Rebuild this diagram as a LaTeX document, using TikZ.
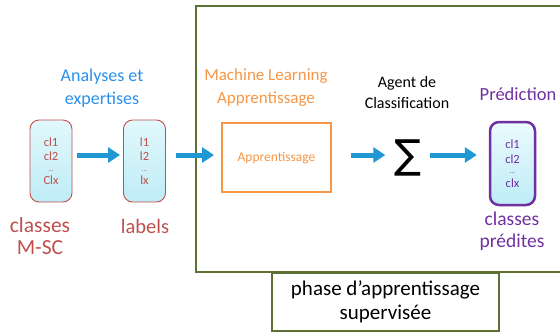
\documentclass[tikz,border=0pt]{standalone}
\usepackage{fontspec}
\setmainfont{Carlito}
\newfontfamily\symfont{DejaVu Sans}
\usetikzlibrary{arrows.meta,positioning}

\definecolor{frameGreen}{RGB}{94,113,52}
\definecolor{msRed}{RGB}{192,80,77}
\definecolor{msBlue}{RGB}{40,145,235}
\definecolor{msOrange}{RGB}{247,150,70}
\definecolor{msPurple}{RGB}{112,48,160}
\definecolor{arrBlue}{RGB}{31,152,212}
\definecolor{cyanTop}{RGB}{226,248,252}
\definecolor{cyanBot}{RGB}{190,236,246}

\begin{document}
\begin{tikzpicture}[x=1pt,y=-1pt,
  scroll/.style={
    rectangle, draw=msRed, line width=0.9pt, rounded corners=9pt,
    top color=cyanTop, bottom color=cyanBot,
    minimum width=42pt, minimum height=82pt, inner sep=0pt,
    align=center, text=msRed, font=\fontsize{12.5}{14.5}\selectfont},
  title/.style={align=center, inner sep=0pt},
  flow/.style={-{Triangle[length=12pt,width=15pt]}, line width=5pt, arrBlue},
]
\useasboundingbox (0,0) rectangle (560,333);

%% ---- Frame ----
\draw[frameGreen, line width=2.5pt] (196,6) rectangle (570,272);
\node[draw=frameGreen, line width=1.5pt, fill=white,
      minimum width=227pt, minimum height=58pt, align=center,
      font=\fontsize{21}{24}\selectfont] (phase) at (385.5,302)
      {phase d'apprentissage\\supervisée};

%% ---- Nodes ----
\node[scroll] (cls) at (51,161) {cl1\\cl2\\[-4pt]{\fontsize{7}{8}\selectfont...}\\[-1pt]Clx};
\node[scroll] (lab) at (144.5,161) {l1\\l2\\[-4pt]{\fontsize{7}{8}\selectfont...}\\[-1pt]lx};

\node[draw=msOrange, line width=2pt, minimum width=109pt, minimum height=69pt,
      text=msOrange, font=\fontsize{13.5}{15}\selectfont] (app) at (276.5,157.5)
      {Apprentissage};

\node[inner sep=0pt, font=\symfont\fontsize{40}{40}\selectfont] (sig) at (408,158) {∑};

\node[scroll, draw=msPurple, line width=2.5pt, text=msPurple,
      minimum width=45pt, minimum height=83pt, top color=cyanTop!70!white]
      (pred) at (512.5,163.5) {cl1\\cl2\\[-4pt]{\fontsize{7}{8}\selectfont...}\\[-1pt]clx};

\coordinate (inbox) at (214,155);

%% ---- Titles ----
\node[title, text=msBlue, font=\fontsize{18}{23}\selectfont] (ana) at (102,88)
      {Analyses et\\expertises};
\node[title, text=msRed, font=\fontsize{21.5}{21.5}\selectfont] (clsl) at (40,236)
      {classes\\M-SC};
\node[title, text=msRed, font=\fontsize{20.5}{19}\selectfont] (labl) at (145,226)
      {labels};
\node[title, text=msOrange, font=\fontsize{17}{23}\selectfont] (ml) at (266,88)
      {Machine Learning\\Apprentissage};
\node[title, font=\fontsize{16}{21}\selectfont] (agent) at (407,92)
      {Agent de\\Classification};
\node[title, text=msPurple, font=\fontsize{18.5}{20}\selectfont] (predt) at (518,94)
      {Prédiction};
\node[title, text=msPurple, font=\fontsize{19.5}{22}\selectfont] (predl) at (512,231)
      {classes\\prédites};

%% ---- Arrows ----
\draw[flow, shorten <=5pt, shorten >=3pt] ([yshift=6pt]cls.east) -- ([yshift=6pt]lab.west);
\draw[flow, shorten <=10pt] ([yshift=6pt]lab.east) -- (inbox);
\draw[flow, shorten <=19pt, shorten >=9pt] ([yshift=2.5pt]app.east) -- ([yshift=3pt]sig.west);
\draw[flow, shorten <=8pt, shorten >=12pt] ([yshift=3pt]sig.east) -- ([yshift=8.5pt]pred.west);

\end{tikzpicture}
\end{document}
